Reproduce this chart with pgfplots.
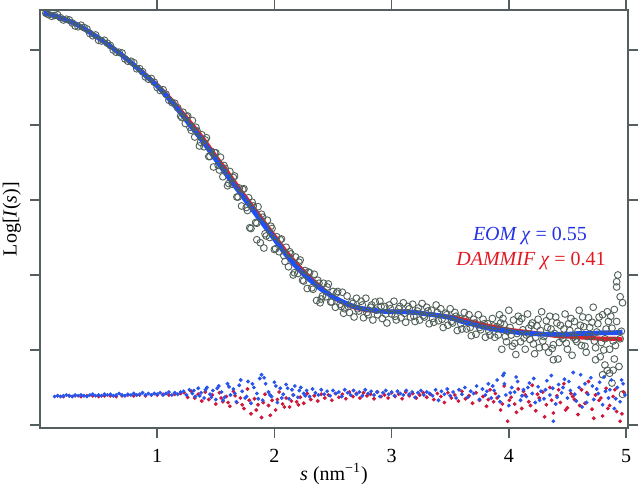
\documentclass[border=0pt]{standalone}
\usepackage{fontspec}
\setmainfont{Liberation Serif}
\usepackage{pgfplots}
\pgfplotsset{compat=1.18}
\definecolor{axgray}{RGB}{85,95,95}
\definecolor{datagray}{RGB}{80,96,88}
\definecolor{fitblue}{RGB}{30,80,245}
\definecolor{fitred}{RGB}{228,30,40}
\definecolor{resblue}{RGB}{40,85,235}
\definecolor{resred}{RGB}{205,25,60}
\definecolor{txtblue}{RGB}{35,50,225}
\definecolor{txtred}{RGB}{225,25,35}
\begin{document}
\begin{tikzpicture}
\begin{axis}[
  at={(0,0)}, anchor=south west,
  scale only axis, width=294pt, height=209pt,
  xmin=0, xmax=5.017, ymin=-0.04, ymax=5.533,
  axis line style={axgray, line width=0.8pt},
  tick style={axgray, line width=0.8pt},
  major tick length=5pt,
  tick align=outside,
  xtick={1,2,3,4,5}, ytick={0,1,2,3,4,5}, yticklabels={},
  /pgf/number format/assume math mode=true,
  every tick label/.append style={font=\fontsize{10}{12}\selectfont},
  xticklabel style={yshift=-2pt},
  xlabel={\textit{s} (nm\textsuperscript{−1})},
  ylabel={Log[\textit{I}(\textit{s})]},
  label style={font=\fontsize{10}{12}\selectfont},
  xlabel style={at={(axis description cs:0.5,-0.11)}, anchor=center},
  ylabel style={at={(axis description cs:-0.048,0.5)}, anchor=center},
]
% experimental data
\addplot[only marks, mark=o, mark size=1.7pt, mark options={datagray, line width=0.45pt}] coordinates {
(0.05,5.49)(0.10,5.45)(0.15,5.47)(0.20,5.40)(0.25,5.40)(0.30,5.32)(0.35,5.33)(0.40,5.28)(0.45,5.19)(0.50,5.13)
(0.55,5.13)(0.60,5.06)(0.65,4.97)(0.70,4.96)(0.75,4.85)(0.80,4.83)(0.85,4.75)(0.90,4.64)(0.95,4.62)(1.00,4.50)
(1.05,4.47)(1.10,4.33)(1.15,4.29)(1.20,4.12)
(0.075,5.47)(0.125,5.46)(0.175,5.43)(0.225,5.41)(0.275,5.36)(0.325,5.31)(0.375,5.30)(0.425,5.22)(0.475,5.20)(0.525,5.12)
(0.575,5.09)(0.625,5.00)(0.675,4.97)(0.725,4.88)(0.775,4.85)(0.825,4.75)(0.875,4.71)(0.925,4.61)(0.975,4.57)(1.025,4.46)
(1.075,4.41)(1.125,4.30)(1.175,4.23)
(1.22,4.17)(1.24,4.02)(1.26,4.12)(1.28,3.97)(1.30,4.06)(1.32,3.84)(1.34,3.92)(1.36,3.72)(1.38,3.87)(1.40,3.71)
(1.42,3.83)(1.44,3.58)(1.46,3.65)(1.48,3.44)(1.50,3.63)(1.52,3.46)(1.54,3.57)(1.56,3.31)(1.58,3.42)(1.60,3.19)
(1.62,3.38)(1.64,3.21)(1.66,3.32)(1.68,3.04)(1.70,3.16)(1.72,2.92)(1.74,3.15)(1.76,2.90)(1.78,3.03)(1.80,2.62)
(1.82,2.92)(1.84,2.70)(1.86,2.91)(1.88,2.43)(1.90,2.77)(1.92,2.55)(1.94,2.73)(1.96,2.50)(1.98,2.62)(2.00,2.34)
(2.02,2.51)(2.04,2.31)(2.06,2.48)(2.08,2.26)(2.10,2.37)(2.12,2.11)(2.14,2.28)(2.16,2.00)(2.18,2.24)(2.20,2.02)
(2.22,2.20)(2.24,1.93)(2.26,2.06)(2.28,1.82)(2.30,2.03)(2.32,1.83)(2.34,2.01)(2.36,1.66)(2.38,1.89)(2.40,1.68)
(2.42,1.89)(2.44,1.71)(2.46,1.88)(2.48,1.64)(2.50,1.78)(2.52,1.57)(2.54,1.78)(2.56,1.61)(2.58,1.77)(2.60,1.55)
(1.85,2.47)(1.91,2.36)(1.79,2.63)(2.39,1.63)(2.59,1.49)
(1.21,4.10)(1.25,4.11)(1.29,3.93)(1.33,3.97)(1.37,3.77)(1.41,3.80)(1.45,3.58)(1.49,3.63)(1.53,3.40)(1.57,3.46)
(1.61,3.22)(1.65,3.30)(1.69,3.04)(1.73,3.14)(1.77,2.86)(1.81,2.97)(1.85,2.69)(1.89,2.81)(1.93,2.52)(1.97,2.65)
(2.01,2.35)(2.05,2.47)(2.09,2.18)(2.13,2.31)(2.17,2.03)(2.21,2.17)(2.25,1.92)(2.29,2.04)(2.33,1.81)(2.37,1.93)
(2.41,1.72)(2.45,1.84)(2.49,1.64)(2.53,1.76)(2.57,1.58)
(2.62,1.72)(2.64,1.50)(2.66,1.64)(2.68,1.44)(2.70,1.69)(2.72,1.52)(2.74,1.65)(2.76,1.43)(2.78,1.69)(2.80,1.47)
(2.82,1.57)(2.84,1.40)(2.86,1.64)(2.88,1.47)(2.90,1.65)(2.92,1.42)(2.94,1.58)(2.96,1.36)(2.98,1.60)(3.00,1.48)
(3.02,1.65)(3.04,1.40)(3.06,1.55)(3.08,1.43)(3.10,1.63)(3.12,1.37)(3.14,1.58)(3.16,1.44)(3.18,1.61)(3.20,1.38)
(3.22,1.52)(3.24,1.40)(3.26,1.62)(3.28,1.44)(3.30,1.57)(3.32,1.35)(3.34,1.53)(3.36,1.37)(3.38,1.60)(3.40,1.39)
(3.42,1.55)(3.44,1.30)(3.46,1.49)(3.48,1.33)(3.50,1.55)(3.52,1.36)(3.54,1.50)(3.56,1.26)(3.58,1.42)(3.60,1.28)
(3.62,1.50)(3.64,1.28)(3.66,1.47)(3.68,1.19)(3.70,1.41)(3.72,1.21)(3.74,1.47)(3.76,1.27)(3.78,1.41)(3.80,1.17)
(3.82,1.35)(3.84,1.20)(3.86,1.42)(3.88,1.17)(3.90,1.31)
(2.63,1.58)(2.67,1.62)(2.71,1.55)(2.75,1.60)(2.79,1.50)(2.83,1.60)(2.87,1.53)(2.91,1.58)(2.95,1.48)(2.99,1.55)
(3.03,1.45)(3.07,1.58)(3.11,1.49)(3.15,1.55)(3.19,1.45)(3.23,1.56)(3.27,1.46)(3.31,1.52)(3.35,1.42)(3.39,1.50)
(3.43,1.41)(3.47,1.47)(3.51,1.38)(3.55,1.45)(3.59,1.35)(3.63,1.41)(3.67,1.30)(3.71,1.36)(3.75,1.30)(3.79,1.35)
(3.83,1.25)(3.87,1.32)
(3.92,1.47)(3.94,1.01)(3.96,1.34)(3.98,1.11)(4.00,1.53)(4.02,1.20)(4.04,1.40)(4.06,0.94)(4.08,1.45)(4.10,1.11)
(4.12,1.27)(4.14,1.01)(4.16,1.48)(4.18,1.14)(4.20,1.36)(4.22,0.95)(4.24,1.32)(4.26,1.03)(4.28,1.51)(4.30,1.18)
(4.32,1.39)(4.34,0.97)(4.36,1.28)(4.38,1.07)(4.40,1.44)(4.42,0.88)(4.44,1.33)(4.46,1.15)(4.48,1.48)(4.50,1.01)
(4.52,1.26)(4.54,0.93)(4.56,1.38)(4.58,1.11)(4.60,1.53)(4.62,1.06)(4.64,1.31)(4.66,0.97)(4.68,1.43)(4.70,1.18)
(4.72,1.57)(4.74,1.03)(4.76,1.35)(4.78,0.91)(4.80,1.47)(4.82,1.15)(4.84,1.51)(4.86,1.01)(4.88,1.29)(4.90,0.88)
(4.92,1.38)(4.94,0.78)(4.96,1.25)
(3.93,1.36)(3.97,1.18)(4.01,1.30)(4.05,1.09)(4.09,1.38)(4.13,1.16)(4.17,1.29)(4.21,1.08)(4.25,1.41)(4.29,1.12)
(4.33,1.30)(4.37,1.02)(4.41,1.36)(4.45,1.19)(4.49,1.09)(4.53,1.42)(4.57,1.14)(4.61,1.33)(4.65,1.05)(4.69,1.30)
(4.73,1.12)(4.77,1.44)(4.81,1.00)(4.85,1.38)(4.89,1.12)
(3.91,1.20)(3.95,1.42)(3.99,1.25)(4.03,1.05)(4.07,1.22)(4.11,1.42)(4.15,1.20)(4.19,1.33)(4.23,1.17)(4.27,1.26)
(4.31,1.04)(4.35,1.45)(4.39,1.22)(4.43,1.10)(4.47,1.28)(4.51,1.35)(4.55,1.17)(4.59,1.25)(4.63,1.44)(4.67,1.18)
(4.71,1.37)(4.75,1.24)(4.79,1.10)(4.83,1.28)(4.87,1.45)(4.91,1.06)(4.95,1.15)
(4.93,2.00)(4.92,1.91)(4.92,1.84)(4.95,1.71)(4.97,1.63)(4.90,1.54)
(4.82,0.80)(4.84,0.73)(4.80,0.67)(4.88,0.56)(4.97,0.41)(4.38,0.87)(4.74,0.87)(4.89,0.73)(4.86,0.69)
};
% DAMMIF fit
\addplot[fitred, line width=2.1pt, smooth] coordinates {
(0.03,5.49)(0.10,5.47)(0.20,5.41)(0.30,5.35)(0.40,5.26)(0.50,5.16)(0.60,5.05)(0.70,4.93)(0.80,4.80)(0.90,4.67)
(1.00,4.53)(1.10,4.37)(1.20,4.19)(1.30,4.00)(1.40,3.80)(1.50,3.58)(1.60,3.37)(1.70,3.15)(1.80,2.94)(1.90,2.73)
(2.00,2.52)(2.10,2.31)(2.20,2.13)(2.30,1.97)(2.40,1.83)(2.50,1.71)(2.60,1.62)(2.70,1.56)(2.80,1.53)(2.90,1.52)
(3.00,1.51)(3.10,1.51)(3.20,1.50)(3.30,1.48)(3.40,1.46)(3.50,1.44)(3.60,1.41)(3.70,1.37)(3.80,1.33)(3.90,1.30)
(4.00,1.27)(4.10,1.25)(4.20,1.23)(4.30,1.21)(4.40,1.19)(4.50,1.18)(4.60,1.17)(4.70,1.16)(4.80,1.15)(4.90,1.15)
(4.97,1.14)
};
% EOM fit
\addplot[fitblue, line width=2.4pt, smooth] coordinates {
(0.03,5.49)(0.10,5.47)(0.20,5.41)(0.30,5.35)(0.40,5.26)(0.50,5.16)(0.60,5.05)(0.70,4.93)(0.80,4.80)(0.90,4.66)
(1.00,4.52)(1.10,4.35)(1.20,4.16)(1.30,3.96)(1.40,3.76)(1.50,3.54)(1.60,3.32)(1.70,3.11)(1.80,2.90)(1.90,2.69)
(2.00,2.48)(2.10,2.27)(2.20,2.09)(2.30,1.94)(2.40,1.81)(2.50,1.71)(2.60,1.63)(2.70,1.57)(2.80,1.54)(2.90,1.52)
(3.00,1.51)(3.10,1.51)(3.20,1.50)(3.30,1.48)(3.40,1.46)(3.50,1.43)(3.60,1.38)(3.70,1.34)(3.80,1.30)(3.90,1.27)
(4.00,1.25)(4.10,1.23)(4.20,1.22)(4.30,1.21)(4.40,1.21)(4.50,1.21)(4.60,1.22)(4.70,1.22)(4.80,1.23)(4.90,1.23)
(4.97,1.24)
};
% DAMMIF residuals
\addplot[only marks, mark=*, mark size=0.75pt, mark options={resred, draw=none, fill=resred}] coordinates {
(0.15,0.39)(0.20,0.38)(0.25,0.39)(0.30,0.39)(0.35,0.38)(0.40,0.39)(0.45,0.39)(0.50,0.38)(0.55,0.39)(0.60,0.39)
(0.65,0.38)(0.70,0.39)(0.75,0.40)(0.80,0.39)(0.85,0.40)(0.90,0.39)(0.95,0.40)(1.00,0.40)(1.05,0.41)(1.10,0.40)
(1.15,0.41)(1.20,0.42)
(1.23,0.43)(1.26,0.37)(1.29,0.45)(1.32,0.36)(1.35,0.41)(1.38,0.32)(1.41,0.44)(1.44,0.34)(1.47,0.40)(1.50,0.28)
(1.53,0.43)(1.56,0.31)(1.59,0.38)(1.62,0.25)(1.65,0.45)(1.68,0.30)(1.71,0.36)(1.74,0.22)(1.77,0.48)(1.80,0.15)
(1.83,0.35)(1.86,0.27)(1.89,0.10)(1.92,0.41)(1.95,0.26)(1.98,0.33)(2.01,0.20)(2.04,0.44)(2.07,0.28)(2.10,0.36)
(2.13,0.24)(2.16,0.40)(2.19,0.31)(2.22,0.37)(2.25,0.29)(2.28,0.42)(2.31,0.34)(2.34,0.39)(2.37,0.32)(2.40,0.41)
(2.43,0.36)(2.46,0.40)(2.49,0.33)(2.52,0.42)(2.55,0.37)(2.58,0.41)(2.61,0.35)(2.64,0.44)(2.67,0.38)(2.70,0.42)
(2.73,0.36)(2.76,0.43)(2.79,0.39)(2.82,0.41)(2.85,0.35)(2.88,0.44)(2.91,0.38)(2.94,0.40)(2.97,0.36)(3.00,0.43)
(3.03,0.38)(3.06,0.41)(3.09,0.35)(3.12,0.44)(3.15,0.39)(3.18,0.42)(3.21,0.36)(3.24,0.40)(3.27,0.43)(3.30,0.37)
(3.33,0.41)(3.36,0.34)(3.39,0.42)(3.42,0.38)(3.45,0.30)(3.48,0.43)(3.51,0.36)(3.54,0.40)(3.57,0.32)(3.60,0.45)
(3.63,0.35)(3.66,0.39)(3.69,0.29)(3.72,0.43)(3.75,0.33)(3.78,0.38)(3.81,0.25)(3.84,0.47)(3.87,0.31)(3.90,0.36)
(3.93,0.20)(3.96,0.52)(3.99,0.05)(4.02,0.37)(4.05,0.28)(4.08,0.48)(4.11,0.22)(4.14,0.40)(4.17,0.31)(4.20,0.53)
(4.23,0.19)(4.26,0.36)(4.29,0.44)(4.32,0.27)(4.35,0.50)(4.38,0.16)(4.41,0.39)(4.44,0.30)(4.47,0.55)(4.50,0.23)
(4.53,0.42)(4.56,0.34)(4.59,0.14)(4.62,0.47)(4.65,0.29)(4.68,0.58)(4.71,0.21)(4.74,0.40)(4.77,0.33)(4.80,0.12)
(4.83,0.49)(4.86,0.26)(4.89,0.38)(4.92,0.18)(4.95,0.05)(4.98,0.44)
(1.545,0.36)(1.605,0.30)(1.665,0.39)(1.725,0.27)(1.785,0.33)(1.845,0.20)(1.905,0.30)(1.965,0.13)(2.025,0.34)(2.085,0.24)
(2.145,0.32)(2.205,0.27)(3.825,0.34)(3.885,0.42)(3.945,0.28)(4.005,0.33)(4.065,0.17)(4.125,0.45)(4.185,0.26)(4.245,0.41)
(4.305,0.11)(4.365,0.33)(4.425,0.47)(4.485,0.20)(4.545,0.38)(4.605,0.26)(4.665,0.43)(4.725,0.09)(4.785,0.36)(4.845,0.22)
(4.905,0.47)(4.965,0.15)
};
% EOM residuals
\addplot[only marks, mark=*, mark size=0.75pt, mark options={resblue, draw=none, fill=resblue}] coordinates {
(0.125,0.38)(0.15,0.39)(0.175,0.38)(0.20,0.39)(0.225,0.40)(0.25,0.39)(0.275,0.38)(0.30,0.40)(0.325,0.39)(0.35,0.40)
(0.375,0.39)(0.40,0.38)(0.425,0.40)(0.45,0.41)(0.475,0.39)(0.50,0.40)(0.525,0.39)(0.55,0.41)(0.575,0.40)(0.60,0.41)
(0.625,0.39)(0.65,0.40)(0.675,0.42)(0.70,0.40)(0.725,0.39)(0.75,0.41)(0.775,0.40)(0.80,0.42)(0.825,0.40)(0.85,0.41)
(0.875,0.43)(0.90,0.40)(0.925,0.42)(0.95,0.40)(0.975,0.42)(1.00,0.41)(1.025,0.43)(1.05,0.40)(1.075,0.42)(1.10,0.44)
(1.125,0.40)(1.15,0.43)(1.175,0.41)(1.20,0.44)
(1.225,0.45)(1.25,0.40)(1.275,0.47)(1.30,0.42)(1.325,0.38)(1.35,0.49)(1.375,0.43)(1.40,0.36)(1.425,0.50)(1.45,0.41)
(1.475,0.46)(1.50,0.34)(1.525,0.52)(1.55,0.44)(1.575,0.37)(1.60,0.55)(1.625,0.40)(1.65,0.48)(1.675,0.31)(1.70,0.53)
(1.725,0.45)(1.75,0.36)(1.775,0.58)(1.80,0.29)(1.825,0.50)(1.85,0.42)(1.875,0.62)(1.90,0.33)(1.925,0.55)(1.95,0.44)
(1.975,0.38)(2.00,0.57)(2.025,0.30)(2.05,0.49)(2.075,0.41)(2.10,0.54)(2.125,0.35)(2.15,0.47)(2.175,0.52)(2.20,0.37)
(2.225,0.50)(2.25,0.42)(2.275,0.46)(2.30,0.38)(2.325,0.48)(2.35,0.43)(2.375,0.40)(2.40,0.47)(2.425,0.41)(2.45,0.45)
(2.475,0.39)(2.50,0.46)(2.525,0.42)(2.55,0.44)(2.575,0.38)(2.60,0.47)(2.625,0.43)(2.65,0.40)(2.675,0.46)(2.70,0.41)
(2.725,0.44)(2.75,0.39)(2.775,0.47)(2.80,0.42)(2.825,0.45)(2.85,0.40)(2.875,0.44)(2.90,0.38)(2.925,0.43)(2.95,0.46)
(2.975,0.41)(3.00,0.44)(3.025,0.39)(3.05,0.45)(3.075,0.42)(3.10,0.40)(3.125,0.46)(3.15,0.41)(3.175,0.44)(3.20,0.37)
(3.225,0.43)(3.25,0.46)(3.275,0.40)(3.30,0.44)(3.325,0.42)(3.35,0.39)(3.375,0.47)(3.40,0.33)(3.425,0.45)(3.45,0.41)
(3.475,0.48)(3.50,0.39)(3.525,0.44)(3.55,0.36)(3.575,0.47)(3.60,0.41)(3.625,0.50)(3.65,0.37)(3.675,0.45)(3.70,0.42)
(3.725,0.52)(3.75,0.34)(3.775,0.48)(3.80,0.40)(3.825,0.55)(3.85,0.36)(3.875,0.46)(3.90,0.60)(3.925,0.31)(3.95,0.66)
(3.975,0.40)(4.00,0.26)(4.025,0.50)(4.05,0.44)(4.075,0.58)(4.10,0.33)(4.125,0.47)(4.15,0.38)(4.175,0.56)(4.20,0.42)
(4.225,0.30)(4.25,0.51)(4.275,0.45)(4.30,0.35)(4.325,0.59)(4.35,0.40)(4.375,0.49)(4.40,0.28)(4.425,0.54)(4.45,0.43)
(4.475,0.61)(4.50,0.36)(4.525,0.46)(4.55,0.70)(4.575,0.32)(4.60,0.50)(4.625,0.24)(4.65,0.55)(4.675,0.41)(4.70,0.63)
(4.725,0.34)(4.75,0.48)(4.775,0.57)(4.80,0.27)(4.825,0.45)(4.85,0.36)(4.875,0.60)(4.90,0.22)(4.925,0.50)(4.95,0.31)
(4.975,0.55)(4.99,0.40)(1.89,0.67)(3.96,0.69)(4.38,0.05)
(1.3125,0.46)(1.3625,0.39)(1.4125,0.47)(1.4625,0.37)(1.5125,0.49)(1.5625,0.33)(1.6125,0.51)(1.6625,0.42)(1.7125,0.60)(1.7625,0.38)
(1.8125,0.55)(1.8625,0.35)(1.9125,0.63)(1.9625,0.40)(2.0125,0.52)(2.0625,0.36)(2.1125,0.49)(2.1625,0.40)(2.2125,0.46)(2.2625,0.39)
(3.8125,0.45)(3.8625,0.52)(3.9125,0.38)(3.9625,0.55)(4.0125,0.43)(4.0625,0.64)(4.1125,0.39)(4.1625,0.50)(4.2125,0.62)(4.2625,0.33)
(4.3125,0.47)(4.3625,0.66)(4.4125,0.37)(4.4625,0.50)(4.5125,0.58)(4.5625,0.41)(4.6125,0.67)(4.6625,0.30)(4.7125,0.52)(4.7625,0.42)
(4.8125,0.64)(4.8625,0.47)(4.9125,0.35)(4.9625,0.60)
};
\node[txtblue, font=\fontsize{10}{12}\selectfont] at (axis cs:4.18,2.52) {\textit{EOM χ} = 0.55};
\node[txtred, font=\fontsize{10}{12}\selectfont] at (axis cs:4.19,2.19) {\textit{DAMMIF χ} = 0.41};
\end{axis}
\pgfresetboundingbox
\path (-20pt,-30pt) rectangle (300pt,214pt);
\end{tikzpicture}
\end{document}
